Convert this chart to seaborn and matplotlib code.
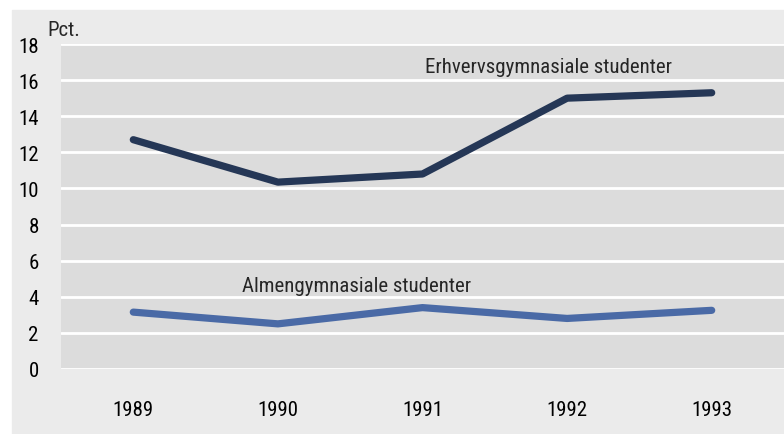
import pandas as pd
import matplotlib.pyplot as plt
import matplotlib.patches as mpatches
from matplotlib import font_manager
import seaborn as sns

years = ['1989', '1990', '1991', '1992', '1993']
erhverv = [12.7, 10.35, 10.8, 15.0, 15.3]
almen = [3.15, 2.5, 3.4, 2.8, 3.25]
y_ticks = [0, 2, 4, 6, 8, 10, 12, 14, 16, 18]

df = pd.DataFrame({'year': years * 2,
                   'pct': erhverv + almen,
                   'serie': ['Erhvervsgymnasiale studenter'] * 5 + ['Almengymnasiale studenter'] * 5})

sns.set_style("white")
# pick a narrow font if one is installed, otherwise plain Liberation Sans
installed = {f.name for f in font_manager.fontManager.ttflist}
font = next((f for f in ['Liberation Sans Narrow', 'Roboto Condensed', 'Open Sans Condensed',
                         'Liberation Sans'] if f in installed), 'DejaVu Sans')
plt.rcParams['font.family'] = [font, 'DejaVu Sans']

fig = plt.figure(figsize=(7.84, 4.35), dpi=100, facecolor='white')
# light gray panel behind everything, leaving a thin white border top/left
fig.patches.append(mpatches.Rectangle((12 / 784, 0), 1, (435 - 11) / 435,
                                      transform=fig.transFigure, color='#ebebeb', zorder=-5))

ax = fig.add_axes([61 / 784, (435 - 370) / 435, (784 - 61) / 784, (370 - 45) / 435])
ax.set_facecolor('#dcdcdc')

sns.lineplot(data=df, x='year', y='pct', hue='serie',
             palette={'Erhvervsgymnasiale studenter': '#253756',
                      'Almengymnasiale studenter': '#4a6aa6'},
             linewidth=5.2, legend=False, ax=ax,
             solid_capstyle='round', solid_joinstyle='round', zorder=3)

ax.set_xlim(-0.5, 4.5)
ax.set_ylim(0, 18)
ax.set_yticks(y_ticks)
ax.yaxis.grid(True, color='white', linewidth=2)
ax.xaxis.grid(False)
ax.set_axisbelow(True)
for s in ax.spines.values():
    s.set_visible(False)
ax.tick_params(axis='both', length=0, labelsize=15, colors='black')
ax.tick_params(axis='y', pad=16)
ax.tick_params(axis='x', pad=22)
ax.set_xlabel('')
ax.set_ylabel('')

fig.text(47 / 784, 1 - 30 / 435, 'Pct.', fontsize=15, va='center', ha='left')
fig.text(425 / 784, 1 - 68 / 435, 'Erhvervsgymnasiale studenter',
         fontsize=15, va='center', ha='left')
fig.text(242 / 784, 1 - 287 / 435, 'Almengymnasiale studenter',
         fontsize=15, va='center', ha='left')

plt.savefig('out.png', dpi=100, facecolor='white')
